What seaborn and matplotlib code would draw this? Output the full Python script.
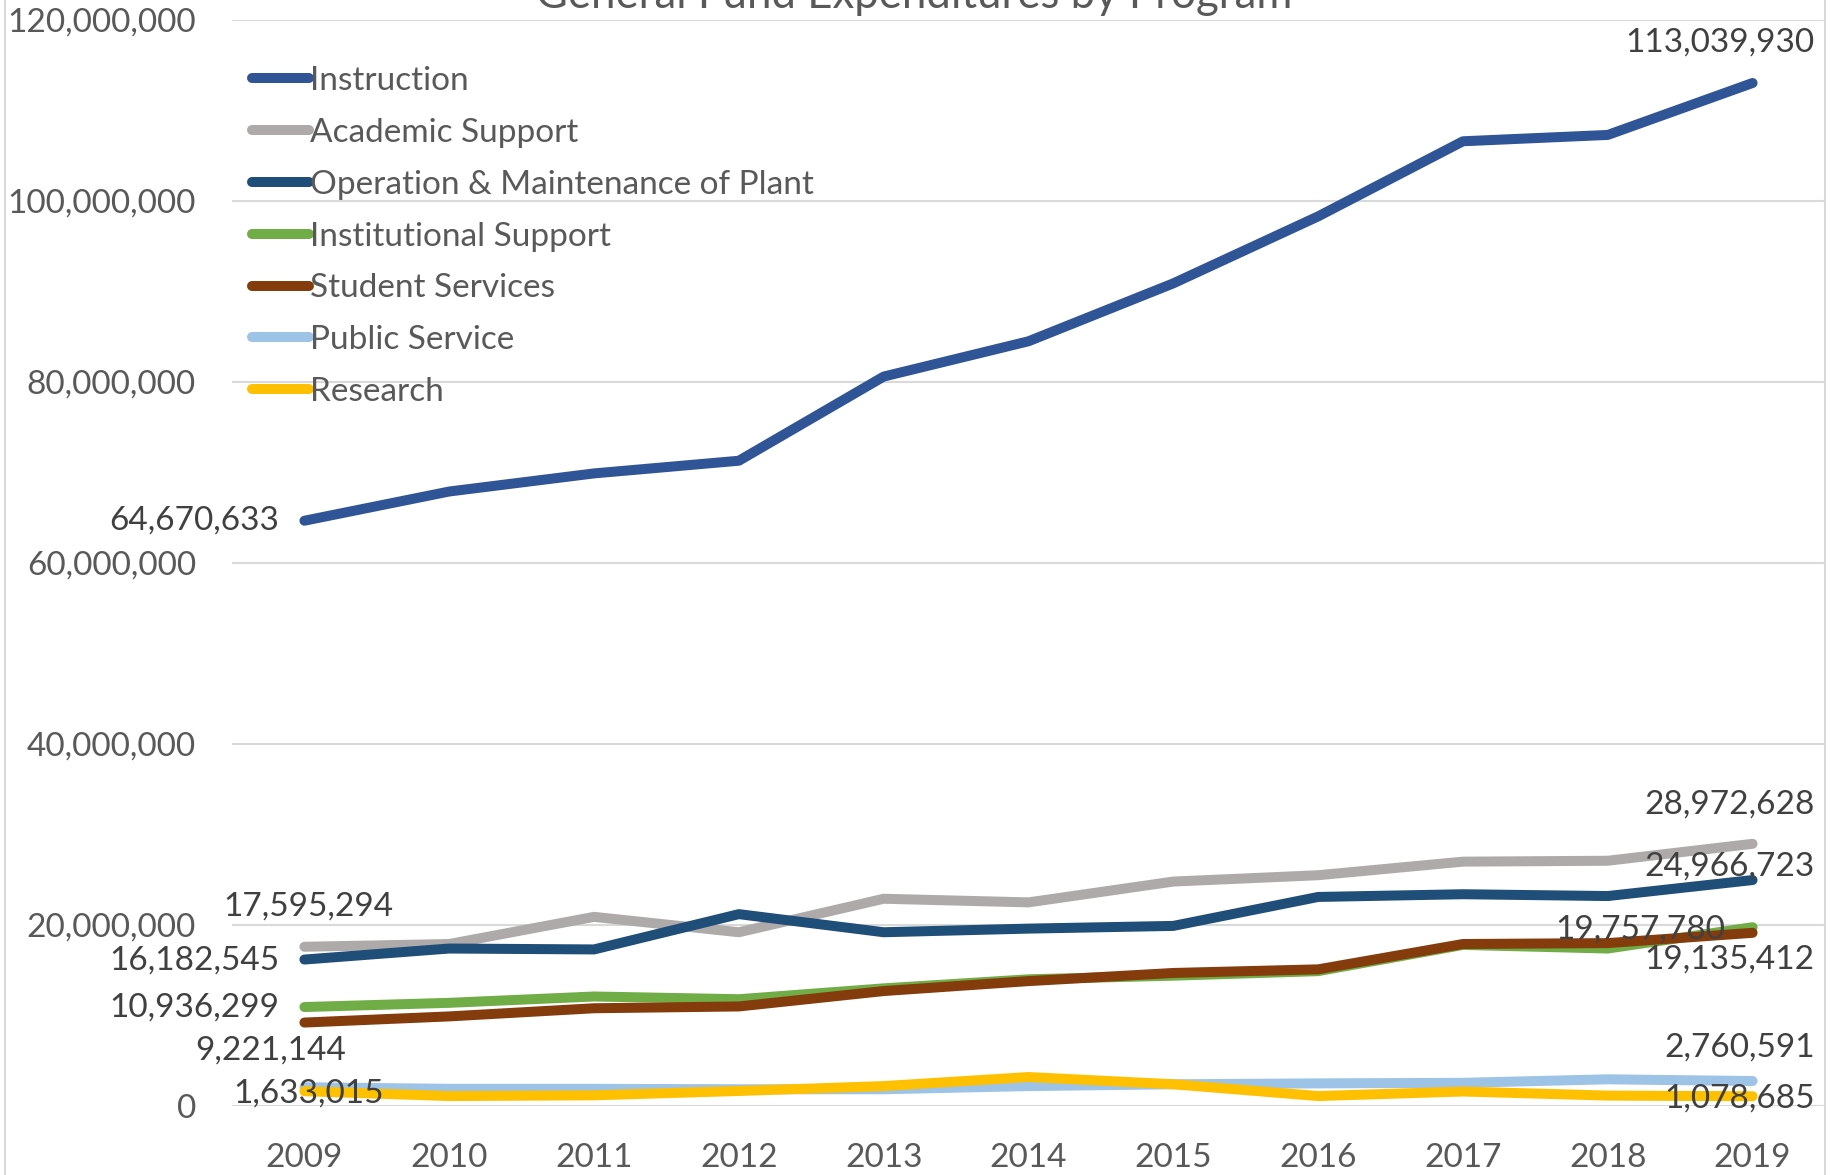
import matplotlib
matplotlib.use("Agg")
import matplotlib.pyplot as plt
from matplotlib.lines import Line2D
import seaborn as sns
import pandas as pd

years = [2009, 2010, 2011, 2012, 2013, 2014, 2015, 2016, 2017, 2018, 2019]
programs = ["Instruction", "Academic Support", "Operation & Maintenance of Plant",
            "Institutional Support", "Student Services", "Public Service", "Research"]

instruction = [64670633, 67900000, 69900000, 71300000, 80600000, 84500000,
               90900000, 98300000, 106600000, 107300000, 113039930]
academic_support = [17595294, 17900000, 20900000, 19200000, 22900000, 22500000,
                    24800000, 25500000, 27000000, 27100000, 28972628]
operation_maintenance = [16182545, 17400000, 17300000, 21200000, 19200000, 19600000,
                         19900000, 23100000, 23400000, 23200000, 24966723]
institutional_support = [10936299, 11400000, 12100000, 11800000, 13000000, 14000000,
                         14400000, 14900000, 17800000, 17400000, 19757780]
student_services = [9221144, 9900000, 10800000, 11000000, 12700000, 13800000,
                    14700000, 15100000, 17900000, 18000000, 19135412]
public_service = [2070000, 1900000, 1900000, 1850000, 1850000, 2200000,
                  2400000, 2500000, 2560000, 2950000, 2760591]
research = [1633015, 1100000, 1180000, 1660000, 2200000, 3200000,
            2400000, 1100000, 1600000, 1150000, 1078685]

colors = ["#2F5597", "#AEAAAA", "#1F4E79", "#70AD47", "#843C0C", "#9DC3E6", "#FFC000"]
yticks = [0, 20000000, 40000000, 60000000, 80000000, 100000000, 120000000]

series = [instruction, academic_support, operation_maintenance, institutional_support,
          student_services, public_service, research]

rows = []
for name, vals in zip(programs, series):
    for y, v in zip(years, vals):
        rows.append({"Year": y, "Program": name, "Value": v})
df = pd.DataFrame(rows)

sns.set_theme(style="white")
plt.rcParams["font.family"] = ["Lato", "DejaVu Sans"]

FS = 24
W, H = 1843, 1175
fig = plt.figure(figsize=(W / 100, H / 100), dpi=100)
ax_left, ax_right, ax_top, ax_bottom = 232, 1825, 20, 1106
ax = fig.add_axes([ax_left / W, 1 - ax_bottom / H, (ax_right - ax_left) / W, (ax_bottom - ax_top) / H])

sns.lineplot(data=df, x="Year", y="Value", hue="Program", hue_order=programs,
             palette=dict(zip(programs, colors)), linewidth=7.2, ax=ax,
             sort=False, legend=True, solid_capstyle="round", solid_joinstyle="round")

ax.set_xlim(2008.5, 2019.5)
ax.set_ylim(0, 120000000)
ax.set_xticks(years)
ax.set_xticklabels([str(y) for y in years])
ax.set_yticks(yticks)
ax.set_yticklabels([f"{v:,}" for v in yticks])
ax.set_xlabel("")
ax.set_ylabel("")
ax.grid(axis="y", color="#D9D9D9", linewidth=1.5)
ax.set_axisbelow(True)
for s in ax.spines.values():
    s.set_visible(False)
ax.tick_params(axis="both", length=0, labelsize=FS, labelcolor="#595959")
ax.tick_params(axis="y", pad=26)
ax.tick_params(axis="x", pad=26.5)

handles, labels = ax.get_legend_handles_labels()
for h in handles:
    h.set_linewidth(7.2)
    h.set_solid_capstyle("round")
leg = ax.legend(handles, labels, loc="upper left",
                bbox_to_anchor=((252 - ax_left) / (ax_right - ax_left), (ax_bottom - 66) / (ax_bottom - ax_top)),
                frameon=False, fontsize=FS, handlelength=1.7, handletextpad=0.05,
                labelspacing=0.655, borderpad=0, borderaxespad=0)
for t in leg.get_texts():
    t.set_color("#595959")

# data labels (offsets in pixels)
lab_color = "#404040"
first_labels = [
    (instruction, "right", -25, 0),
    (academic_support, "center", 4, 40),
    (operation_maintenance, "right", -25, -1),
    (institutional_support, "right", -25, -1),
    (student_services, "center", -34, -28),
    (research, "center", 4, -2),
]
last_labels = [
    (instruction, "right", 62, 40),
    (academic_support, "right", 62, 39),
    (operation_maintenance, "right", 62, 14),
    (institutional_support, "right", -27, -2),
    (student_services, "right", 62, -27),
    (public_service, "right", 62, 33),
    (research, "right", 62, -2),
]
for vals, ha, dx, dy in first_labels:
    ax.annotate(f"{vals[0]:,}", (years[0], vals[0]), xytext=(dx, dy),
                textcoords="offset pixels", ha=ha, va="center", fontsize=FS,
                color=lab_color, zorder=10, annotation_clip=False)
for vals, ha, dx, dy in last_labels:
    ax.annotate(f"{vals[-1]:,}", (years[-1], vals[-1]), xytext=(dx, dy),
                textcoords="offset pixels", ha=ha, va="center", fontsize=FS,
                color=lab_color, zorder=10, annotation_clip=False)

# title (cut at the top as in reference)
fig.text(914 / W, 1 - 8 / H, "General Fund Expenditures by Program", ha="center",
         va="baseline", fontsize=31.5, color="#595959")

# chart area border
fig.add_artist(Line2D([5 / W, 5 / W], [0, 1], transform=fig.transFigure, color="#D9D9D9", linewidth=1.5))
fig.add_artist(Line2D([1825 / W, 1825 / W], [0, 1], transform=fig.transFigure, color="#D9D9D9", linewidth=1.5))

fig.savefig("out.png", dpi=100)
